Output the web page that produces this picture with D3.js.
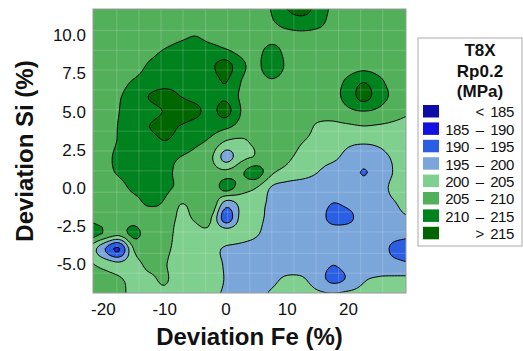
<!DOCTYPE html>
<html><head><meta charset="utf-8">
<script src="https://cdn.jsdelivr.net/npm/d3@7"></script>
<style>body{margin:0;background:#fff;} svg{display:block;font-family:"Liberation Sans",Arial,sans-serif;}</style>
</head><body>
<svg id="c" width="523" height="351"></svg>
<script>
// grid node coordinates (Deviation Fe %, Deviation Si %)
const gridX = [-22.5,-20,-17.5,-15,-12.5,-10,-7.5,-5,-2.5,0,2.5,5,7.5,10,12.5,15,17.5,20,22.5,25,27.5,30];
const gridY = [12,11,10,9,8,7,6,5,4,3,2,1,0,-1,-2,-3,-4,-5,-6,-7];
// Rp0.2 (MPa), one row per Si level
const rY12 = [207,207,207,207,207,207,207,207,207,207,207,207,210.5,215.5,217,213.5,209,207,207,207,207,207];
const rY11 = [207,207,207,207,207,207,207,207,207,207,207,207,209.7,213,214,212.5,208,207,207,207,207,207];
const rY10 = [207,207,207,207,207,207,208.5,209.8,208,207.3,207,207,208,208.5,208.8,208.3,207.5,207,207,207,207,207];
const rY9  = [207,207,207,207,208.5,210.3,212,212.5,211.8,210.4,208.5,208.5,211.5,208.5,207.5,207.5,207,207,207,207,207,207];
const rY8  = [207,207,207,208,210.6,212,212.5,213,214,217,211.2,208.8,213.5,209,207,207,207,207.5,208,207.5,207,207];
const rY7  = [207,207,208.5,210.3,212,213,213.5,213,213,215.3,210,208.3,209.5,208,207,207,208,211,214.5,211,208,207];
const rY6  = [207,208,209.6,212,215.2,216.5,215,213.5,213,214,209.2,207.5,207.5,207,207,207,208.5,212,217,212,209,207];
const rY5  = [207,208,209.9,212.5,213.5,215.3,217.5,216.2,213.5,216.8,209.8,208,207,207,207,207,207,209,209.9,209,207,205.5];
const rY4  = [207,208,210.2,212.5,215,216.5,214.8,213,212,211,208.3,207,207,207,207,204.3,204,204.2,204.8,204.4,204,203.5];
const rY3  = [207,208,210.3,212,213,214.8,213,211,209,204.5,204.2,206,207,207,205.1,203.5,203,201,200.5,201,202.5,203];
const rY2  = [207,208.5,211,212,212,211.5,210,208.5,206,198,203.5,205.4,207,205.8,203.5,202,201,198.5,197.5,198.5,200.7,202.5];
const rY1  = [207,208.5,210.5,212,212,211.2,208.8,207.5,207,206.5,209.3,212.5,205.8,203.5,202,200,198,197.5,194.7,197.5,200.3,202.5];
const rY0  = [207.5,207.5,208.5,211,212,211,209,207.5,206.5,212,207.5,205,199.5,198,197.5,197.5,197.5,197.3,197.3,198.5,201,202.5];
const rYm1 = [207.5,207.5,207.5,208.5,210.8,209.5,205.2,206.5,209.5,198,201.5,201.5,199,197.5,197.3,197,195,196,197.3,198.5,199.8,201.5];
const rYm2 = [209,207.5,207,208,207,207.5,204.3,205.3,205.5,192,201.5,201,198.8,197.5,197.5,197,193.5,194,197.2,197.8,198.8,199.7];
const rYm3 = [213,209.8,207,211.5,207,207,203.5,204.2,204.2,203.5,202.5,200.5,198,197.5,197.5,197.5,197.5,197.5,197.5,197.5,197,196.5];
const rYm4 = [204,196,189.3,205.5,207,206,203.5,203,202,199.2,198.5,198,197.5,197.5,197.5,197.5,197.5,197.5,197.5,197.3,193.8,192.5];
const rYm5 = [205.6,203.5,201.5,203.5,206,205.3,203,203,202,199.5,198,197.5,197.5,197.5,197.5,197.3,195.2,197,197.5,197.5,196.5,195.5];
const rYm6 = [207,206.5,205.5,203.8,204.3,205.4,203.2,203,202,199.7,198,198.5,199,200.8,200.5,197.5,193.5,195.8,199.5,200.5,200.8,201];
const rYm7 = [207,207,206,204,204,204.3,203.5,203,201,199.5,198.5,199,200.5,202,202,200.8,200.5,201,201.5,202,202,202];

const thresholds = [185,190,195,200,205,210,215];
const lowColor = "#0c0ca6";
const bandColors = ["#1212e0","#2b5fe3","#7aa6da","#7fcf8f","#53b05a","#00821e","#006600"];

const xTicks = [-20,-10,0,10,20];
const xTickLabels = ["-20","-10","0","10","20"];
const yTicks = [-5,-2.5,0,2.5,5,7.5,10];
const yTickLabels = ["-5.0","-2.5","0.0","2.5","5.0","7.5","10.0"];
const meshX = [-17.8,-14.2,-10.6,-7,-3.3,0.3,3.9,7.5,11.1,14.7,18.4,22,25.6];
const meshY = [-5.6,-4.3,-2.9,-1.6,-0.3,1.1,2.4,3.7,5.1,6.4,7.7,9,10.3];

const legendTitle = ["T8X","Rp0.2","(MPa)"];
const legendLow  = ["", "185","190","195","200","205","210",""];
const legendSep  = ["<","\u2013","\u2013","\u2013","\u2013","\u2013","\u2013",">"];
const legendHigh = ["185","190","195","200","205","210","215","215"];

const P = {l:93, t:9, r:406, b:293};
const xs = d3.scaleLinear().domain([-21.7, 29.4]).range([P.l, P.r]);
const ys = d3.scaleLinear().domain([-6.9, 11.7]).range([P.b, P.t]);

const svg = d3.select("#c");
svg.append("defs").append("clipPath").attr("id","plotClip")
  .append("rect").attr("x",P.l).attr("y",P.t).attr("width",P.r-P.l).attr("height",P.b-P.t);

const zRows = [rY12,rY11,rY10,rY9,rY8,rY7,rY6,rY5,rY4,rY3,rY2,rY1,rY0,rYm1,rYm2,rYm3,rYm4,rYm5,rYm6,rYm7];
const nx = gridX.length, ny = gridY.length;

// smooth (Catmull-Rom) resampling of the read grid, for rendering only
const F = 5;
const clampI = (i, n) => Math.max(0, Math.min(n - 1, i));
function cr(p0, p1, p2, p3, t) {
  return 0.5 * (2*p1 + (-p0 + p2)*t + (2*p0 - 5*p1 + 4*p2 - p3)*t*t + (-p0 + 3*p1 - 3*p2 + p3)*t*t*t);
}
function sample(gx, gy) {
  const ix = Math.min(Math.floor(gx), nx - 2), iy = Math.min(Math.floor(gy), ny - 2);
  const tx = gx - ix, ty = gy - iy;
  const col = [];
  for (let m = -1; m <= 2; m++) {
    const r = zRows[clampI(iy + m, ny)];
    col.push(cr(r[clampI(ix-1,nx)], r[ix], r[ix+1], r[clampI(ix+2,nx)], tx));
  }
  const v = cr(col[0], col[1], col[2], col[3], ty);
  const c = [zRows[iy][ix], zRows[iy][ix+1], zRows[iy+1][ix], zRows[iy+1][ix+1]];
  return Math.max(Math.min(...c), Math.min(Math.max(...c), v));
}
const NX = (nx - 1) * F + 1, NY = (ny - 1) * F + 1;
const values = new Array(NX * NY);
for (let j = 0; j < NY; j++) for (let i = 0; i < NX; i++) values[j*NX + i] = sample(i / F, j / F);

const stepX = (gridX[1]-gridX[0]) / F, stepY = (gridY[1]-gridY[0]) / F;
const proj = d3.geoTransform({point: function(x, y){
  this.stream.point(xs(gridX[0] + (x-0.5)*stepX), ys(gridY[0] + (y-0.5)*stepY));
}});
const path = d3.geoPath(proj);
const contours = d3.contours().size([NX, NY]).thresholds(thresholds)(values);

const g = svg.append("g").attr("clip-path","url(#plotClip)");
g.append("rect").attr("x",P.l).attr("y",P.t).attr("width",P.r-P.l).attr("height",P.b-P.t).attr("fill",lowColor);
g.selectAll("path.fill").data(contours).join("path").attr("class","fill")
  .attr("d", path).attr("fill", (d,i)=>bandColors[i]).attr("stroke","none");
g.selectAll("line.mx").data(meshX).join("line").attr("class","mx")
  .attr("x1",d=>xs(d)).attr("x2",d=>xs(d)).attr("y1",P.t).attr("y2",P.b)
  .attr("stroke","#fff").attr("stroke-opacity",0.18).attr("stroke-width",1);
g.selectAll("line.my").data(meshY).join("line").attr("class","my")
  .attr("y1",d=>ys(d)).attr("y2",d=>ys(d)).attr("x1",P.l).attr("x2",P.r)
  .attr("stroke","#fff").attr("stroke-opacity",0.18).attr("stroke-width",1);
g.selectAll("path.line").data(contours).join("path").attr("class","line")
  .attr("d", path).attr("fill","none").attr("stroke","#000").attr("stroke-width",1).attr("stroke-linejoin","round");

svg.append("rect").attr("x",P.l).attr("y",P.t).attr("width",P.r-P.l).attr("height",P.b-P.t)
  .attr("fill","none").attr("stroke","#9a9a9a").attr("stroke-width",1);

svg.selectAll("text.xt").data(xTicks).join("text").attr("class","xt")
  .attr("x",d=>xs(d)).attr("y",315).attr("text-anchor","middle")
  .attr("font-size",17).attr("fill","#111").text((d,i)=>xTickLabels[i]);
svg.selectAll("text.yt").data(yTicks).join("text").attr("class","yt")
  .attr("x",86).attr("y",d=>ys(d)+6.3).attr("text-anchor","end")
  .attr("font-size",17).attr("fill","#111").text((d,i)=>yTickLabels[i]);

svg.append("text").attr("x",(P.l+P.r)/2).attr("y",345).attr("text-anchor","middle")
  .attr("font-size",24).attr("font-weight","bold").attr("fill","#111").text("Deviation Fe (%)");
svg.append("text").attr("transform",`translate(33,${(P.t+P.b)/2}) rotate(-90)`).attr("text-anchor","middle")
  .attr("font-size",24).attr("font-weight","bold").attr("fill","#111").text("Deviation Si (%)");

const lg = svg.append("g");
lg.append("rect").attr("x",418).attr("y",38).attr("width",104).attr("height",208)
  .attr("fill","#fff").attr("stroke","#aaa").attr("stroke-width",1);
lg.selectAll("text.lt").data(legendTitle).join("text").attr("class","lt")
  .attr("x",480).attr("y",(d,i)=>56+i*20.5).attr("text-anchor","middle")
  .attr("font-size",17).attr("font-weight","bold").attr("fill","#111").text(d=>d);
const legendColors = [lowColor].concat(bandColors);
const rows = lg.selectAll("g.row").data(legendColors).join("g").attr("class","row")
  .attr("transform",(d,i)=>`translate(0,${105 + i*17.4})`);
rows.append("rect").attr("x",423).attr("y",0).attr("width",16).attr("height",12.5).attr("fill",d=>d);
rows.append("text").attr("x",469).attr("y",12.3).attr("text-anchor","end").attr("font-size",15)
  .attr("letter-spacing",-0.4).attr("fill","#111").text((d,i)=>legendLow[i]);
rows.append("text").attr("x",480).attr("y",12.3).attr("text-anchor","middle").attr("font-size",15)
  .attr("fill","#111").text((d,i)=>legendSep[i]);
rows.append("text").attr("x",514).attr("y",12.3).attr("text-anchor","end").attr("font-size",15)
  .attr("letter-spacing",-0.4).attr("fill","#111").text((d,i)=>legendHigh[i]);
</script>
</body></html>
